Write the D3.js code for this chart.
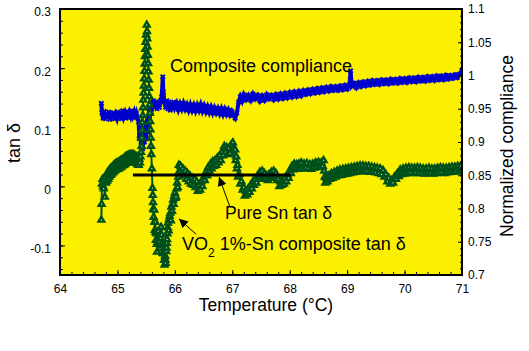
<!DOCTYPE html>
<html>
<head>
<meta charset="utf-8">
<script src="https://cdn.jsdelivr.net/npm/d3@7"></script>
<style>
	body { margin: 0; background: #fff; }
	svg { display: block; font-family: Arial, 'Liberation Sans', sans-serif; }
</style>
</head>
<body>
<div class="chart"></div>
<script>
// chart data
const tempTicks = [ 64, 65, 66, 67, 68, 69, 70, 71 ];
const tanTicks = [ -0.1, 0, 0.1, 0.2, 0.3 ];
const tanTickLabels = [ '-0.1', '0', '0.1', '0.2', '0.3' ];
const compTicks = [ 0.7, 0.75, 0.8, 0.85, 0.9, 0.95, 1, 1.05, 1.1 ];
const compTickLabels = [ '0.7', '0.75', '0.8', '0.85', '0.9', '0.95', '1', '1.05', '1.1' ];

// VO2 1%-Sn composite tan delta  [temperature, tan delta]
const compositeTan = [
	[64.72,-0.057],[64.725,-0.030],[64.73,0.004],[64.74,0.012],[64.75,0.000],[64.76,-0.004],[64.77,0.010],
	[64.78,-0.018],[64.79,0.016],[64.80,0.006],[64.81,0.020],[64.82,0.009],[64.83,0.024],[64.84,0.012],
	[64.85,0.026],[64.86,0.016],[64.87,0.029],[64.88,0.019],[64.89,0.031],[64.90,0.021],[64.91,0.033],
	[64.92,0.023],[64.93,0.035],[64.94,0.025],[64.95,0.037],[64.96,0.027],[64.97,0.038],[64.98,0.028],
	[64.99,0.040],[65.00,0.029],[65.02,0.041],[65.03,0.030],[65.04,0.042],[65.05,0.032],[65.06,0.044],
	[65.07,0.033],[65.08,0.045],[65.09,0.035],[65.10,0.046],[65.11,0.036],[65.12,0.048],[65.13,0.037],
	[65.14,0.050],[65.15,0.039],[65.16,0.051],[65.17,0.040],[65.18,0.052],[65.19,0.041],[65.20,0.053],
	[65.21,0.042],[65.22,0.054],[65.23,0.043],[65.24,0.054],[65.25,0.042],[65.26,0.053],[65.27,0.041],
	[65.28,0.054],[65.29,0.042],[65.30,0.052],[65.31,0.040],[65.32,0.051],[65.33,0.039],[65.34,0.050],
	[65.35,0.037],[65.36,0.048],[65.37,0.036],[65.38,0.046],[65.39,0.040],[65.40,0.050],[65.41,0.058],
	[65.42,0.068],[65.425,0.082],[65.43,0.095],[65.435,0.108],[65.44,0.120],[65.445,0.133],[65.45,0.146],
	[65.455,0.158],[65.46,0.170],[65.465,0.182],[65.47,0.195],[65.475,0.207],[65.48,0.220],[65.485,0.232],
	[65.49,0.244],[65.50,0.256],[65.51,0.273],[65.515,0.262],[65.52,0.250],[65.525,0.236],[65.53,0.222],
	[65.535,0.208],[65.54,0.194],[65.545,0.180],[65.55,0.166],[65.555,0.152],[65.56,0.138],[65.565,0.124],
	[65.57,0.110],[65.575,0.096],[65.58,0.082],[65.585,0.068],[65.59,0.054],[65.60,0.030],[65.61,-0.003],
	[65.615,-0.015],[65.62,-0.027],[65.625,-0.038],[65.63,-0.052],[65.64,-0.040],[65.645,-0.060],
	[65.65,-0.074],[65.66,-0.060],[65.665,-0.078],[65.67,-0.091],[65.68,-0.080],[65.685,-0.098],
	[65.69,-0.111],[65.70,-0.095],[65.71,-0.076],[65.72,-0.086],[65.73,-0.094],[65.74,-0.105],[65.75,-0.088],
	[65.76,-0.069],[65.77,-0.082],[65.78,-0.096],[65.79,-0.113],[65.80,-0.100],[65.805,-0.114],[65.81,-0.125],
	[65.82,-0.133],[65.83,-0.118],[65.835,-0.124],[65.84,-0.130],[65.85,-0.110],[65.855,-0.104],[65.86,-0.096],
	[65.865,-0.090],[65.87,-0.080],[65.875,-0.070],[65.88,-0.062],[65.89,-0.075],[65.90,-0.055],[65.91,-0.050],
	[65.92,-0.045],[65.93,-0.058],[65.94,-0.035],[65.95,-0.042],[65.96,-0.030],[65.97,-0.023],[65.98,-0.030],
	[65.99,-0.016],[66.00,-0.011],[66.01,-0.020],[66.02,-0.018],[66.03,-0.004],[66.04,0.006],[66.05,-0.002],
	[66.06,0.016],[66.07,0.036],[66.08,0.026],[66.10,0.034],[66.12,0.022],[66.14,0.030],[66.16,0.018],
	[66.18,0.026],[66.20,0.012],[66.22,0.022],[66.24,0.008],[66.26,0.018],[66.28,0.004],[66.30,0.014],
	[66.32,0.002],[66.34,0.012],[66.36,-0.002],[66.38,0.008],[66.40,-0.008],[66.42,0.002],[66.44,-0.006],
	[66.46,0.008],[66.48,0.000],[66.50,0.014],[66.52,0.010],[66.54,0.024],[66.56,0.018],[66.58,0.032],
	[66.60,0.026],[66.62,0.038],[66.64,0.030],[66.66,0.042],[66.68,0.034],[66.70,0.044],[66.72,0.036],
	[66.74,0.048],[66.76,0.040],[66.78,0.052],[66.80,0.044],[66.82,0.058],[66.84,0.052],[66.86,0.068],
	[66.88,0.058],[66.90,0.066],[66.92,0.054],[66.94,0.064],[66.96,0.056],[66.98,0.070],[67.00,0.062],
	[67.01,0.074],[67.02,0.064],[67.04,0.054],[67.05,0.062],[67.06,0.044],[67.07,0.050],[67.08,0.030],
	[67.09,0.036],[67.10,0.016],[67.12,0.020],[67.14,0.004],[67.16,0.008],[67.18,-0.006],[67.20,-0.002],
	[67.22,-0.016],[67.24,-0.008],[67.26,-0.014],[67.28,-0.004],[67.30,-0.010],[67.32,0.002],[67.34,-0.004],
	[67.36,0.008],[67.38,0.002],[67.40,0.012],[67.42,0.006],[67.44,0.018],[67.46,0.012],[67.48,0.024],
	[67.50,0.016],[67.52,0.026],[67.54,0.018],[67.56,0.022],[67.58,0.012],[67.60,0.018],[67.62,0.010],
	[67.64,0.020],[67.66,0.014],[67.68,0.024],[67.70,0.016],[67.72,0.026],[67.74,0.018],[67.76,0.022],
	[67.78,0.010],[67.80,0.012],[67.82,0.000],[67.84,0.008],[67.86,0.002],[67.88,0.012],[67.90,0.004],
	[67.92,0.014],[67.94,0.008],[67.96,0.020],[67.98,0.014],[68.00,0.026],[68.02,0.022],[68.04,0.034],
	[68.06,0.028],[68.08,0.038],[68.10,0.030],[68.12,0.037],[68.14,0.029],[68.16,0.038],[68.18,0.030],
	[68.20,0.040],[68.225,0.030],[68.25,0.038],[68.275,0.031],[68.30,0.039],[68.325,0.030],[68.35,0.037],
	[68.375,0.029],[68.40,0.038],[68.425,0.031],[68.45,0.040],[68.475,0.032],[68.50,0.041],[68.525,0.033],
	[68.55,0.040],[68.575,0.034],[68.59,0.044],[68.60,0.026],[68.61,0.016],[68.62,0.006],[68.64,0.014],
	[68.66,0.008],[68.68,0.018],[68.70,0.012],[68.725,0.022],[68.75,0.014],[68.775,0.024],[68.80,0.016],
	[68.825,0.026],[68.85,0.018],[68.875,0.028],[68.90,0.019],[68.925,0.029],[68.95,0.020],[68.975,0.030],
	[69.00,0.021],[69.025,0.031],[69.05,0.022],[69.075,0.032],[69.10,0.023],[69.125,0.033],[69.15,0.024],
	[69.175,0.034],[69.20,0.025],[69.225,0.035],[69.25,0.025],[69.275,0.035],[69.30,0.026],[69.325,0.034],
	[69.35,0.025],[69.375,0.034],[69.40,0.024],[69.425,0.033],[69.45,0.024],[69.475,0.032],[69.50,0.023],
	[69.525,0.031],[69.55,0.022],[69.575,0.030],[69.60,0.020],[69.625,0.027],[69.65,0.016],[69.675,0.020],
	[69.70,0.008],[69.725,0.014],[69.75,0.004],[69.775,0.010],[69.80,0.006],[69.825,0.016],[69.85,0.012],
	[69.875,0.022],[69.90,0.017],[69.925,0.028],[69.95,0.020],[69.975,0.030],[70.00,0.021],[70.025,0.031],
	[70.05,0.022],[70.075,0.032],[70.10,0.023],[70.125,0.031],[70.15,0.022],[70.175,0.031],[70.20,0.023],
	[70.225,0.032],[70.25,0.022],[70.275,0.031],[70.30,0.022],[70.325,0.030],[70.35,0.021],[70.375,0.030],
	[70.40,0.022],[70.425,0.031],[70.45,0.022],[70.475,0.030],[70.50,0.021],[70.525,0.030],[70.55,0.022],
	[70.575,0.031],[70.60,0.023],[70.625,0.032],[70.65,0.023],[70.675,0.031],[70.70,0.022],[70.725,0.031],
	[70.75,0.023],[70.775,0.032],[70.80,0.024],[70.825,0.033],[70.85,0.024],[70.875,0.033],[70.90,0.025],
	[70.925,0.034],[70.95,0.025],[70.975,0.034],[71.00,0.028]
];

// composite normalized compliance  [temperature, compliance]
const compositeCompliance = [
	[64.72,0.958],[64.73,0.944],[64.75,0.936],[64.77,0.946],[64.79,0.935],[64.81,0.943],[64.83,0.937],
	[64.85,0.945],[64.87,0.934],[64.89,0.942],[64.91,0.936],[64.93,0.944],[64.95,0.935],[64.97,0.941],
	[64.99,0.936],[65.01,0.945],[65.03,0.937],[65.05,0.944],[65.07,0.935],[65.09,0.947],[65.11,0.938],
	[65.13,0.943],[65.15,0.936],[65.17,0.946],[65.19,0.937],[65.21,0.944],[65.23,0.939],[65.25,0.947],
	[65.27,0.940],[65.29,0.945],[65.31,0.937],[65.33,0.943],[65.35,0.936],[65.37,0.930],[65.38,0.905],
	[65.40,0.925],[65.41,0.895],[65.43,0.915],[65.44,0.890],[65.46,0.912],[65.47,0.900],[65.49,0.925],
	[65.50,0.905],[65.52,0.935],[65.53,0.915],[65.55,0.950],[65.56,0.930],[65.58,0.960],[65.59,0.945],
	[65.61,0.955],[65.63,0.962],[65.65,0.952],[65.67,0.960],[65.69,0.950],[65.71,0.958],[65.73,0.952],
	[65.75,0.962],[65.77,0.968],[65.79,0.998],[65.80,0.975],[65.82,0.960],[65.84,0.952],[65.86,0.962],
	[65.88,0.950],[65.90,0.960],[65.92,0.948],[65.94,0.958],[65.96,0.950],[65.98,0.960],[66.00,0.952],
	[66.03,0.958],[66.06,0.949],[66.09,0.957],[66.12,0.950],[66.15,0.958],[66.18,0.950],[66.21,0.956],
	[66.24,0.948],[66.27,0.956],[66.30,0.948],[66.33,0.955],[66.36,0.947],[66.39,0.955],[66.42,0.948],
	[66.45,0.956],[66.48,0.947],[66.51,0.954],[66.54,0.946],[66.57,0.953],[66.60,0.945],[66.63,0.952],
	[66.66,0.944],[66.69,0.951],[66.72,0.944],[66.75,0.950],[66.78,0.943],[66.81,0.950],[66.84,0.942],
	[66.87,0.949],[66.90,0.942],[66.93,0.948],[66.96,0.941],[66.99,0.946],[67.02,0.940],[67.05,0.936],
	[67.08,0.944],[67.11,0.960],[67.14,0.968],[67.17,0.962],[67.20,0.971],[67.24,0.964],[67.28,0.970],
	[67.32,0.963],[67.36,0.972],[67.40,0.965],[67.44,0.970],[67.48,0.962],[67.52,0.969],[67.56,0.963],
	[67.60,0.971],[67.64,0.965],[67.68,0.970],[67.72,0.964],[67.76,0.971],[67.80,0.965],[67.84,0.972],
	[67.88,0.966],[67.92,0.973],[67.96,0.967],[68.00,0.974],[68.04,0.968],[68.08,0.975],[68.12,0.969],
	[68.16,0.976],[68.20,0.970],[68.24,0.977],[68.28,0.972],[68.32,0.978],[68.36,0.973],[68.40,0.979],
	[68.44,0.974],[68.48,0.980],[68.52,0.975],[68.56,0.981],[68.60,0.976],[68.64,0.982],[68.68,0.977],
	[68.72,0.983],[68.76,0.978],[68.80,0.983],[68.84,0.978],[68.88,0.984],[68.92,0.979],[68.96,0.985],
	[69.00,0.980],[69.04,0.986],[69.06,1.007],[69.08,0.984],[69.12,0.988],[69.16,0.982],[69.20,0.989],
	[69.24,0.984],[69.28,0.990],[69.32,0.985],[69.36,0.991],[69.40,0.986],[69.44,0.992],[69.48,0.987],
	[69.52,0.992],[69.56,0.987],[69.60,0.993],[69.64,0.988],[69.68,0.993],[69.72,0.988],[69.76,0.994],
	[69.80,0.989],[69.84,0.994],[69.88,0.989],[69.92,0.995],[69.96,0.990],[70.00,0.995],[70.04,0.990],
	[70.08,0.996],[70.12,0.991],[70.16,0.996],[70.20,0.991],[70.24,0.997],[70.28,0.992],[70.32,0.997],
	[70.36,0.992],[70.40,0.998],[70.44,0.993],[70.48,0.998],[70.52,0.993],[70.56,0.999],[70.60,0.994],
	[70.64,0.999],[70.68,0.994],[70.72,1.000],[70.76,0.995],[70.80,1.000],[70.84,0.996],[70.88,1.001],
	[70.92,0.997],[70.96,1.002],[71.00,1.008]
];

// pure Sn tan delta reference line
const pureSnTan = [ [65.27, 0.019], [68.02, 0.019] ];

const width = 529;
const height = 351;
const plot = { left: 60, right: 462, top: 9, bottom: 275 };
const green = '#00501a';
const blue = '#0000cc';

const svg = d3.select('.chart').append('svg').attr('width', width).attr('height', height);

const x = d3.scaleLinear().domain([ 64, 71 ]).range([ plot.left, plot.right ]);
const yTan = d3.scaleLinear().domain([ -0.15, 0.3 ]).range([ plot.bottom, plot.top ]);
const yComp = d3.scaleLinear().domain([ 0.7, 1.1 ]).range([ plot.bottom, plot.top ]);

// yellow plot area
svg.append('rect')
	.attr('x', plot.left).attr('y', plot.top)
	.attr('width', plot.right - plot.left).attr('height', plot.bottom - plot.top)
	.attr('fill', '#faf000');

svg.append('clipPath').attr('id', 'clip').append('rect')
	.attr('x', plot.left).attr('y', plot.top)
	.attr('width', plot.right - plot.left).attr('height', plot.bottom - plot.top);

const data = svg.append('g').attr('clip-path', 'url(#clip)');

// compliance (blue, right axis)
const compLine = d3.line().x((d) => x(d[0])).y((d) => yComp(d[1]));
data.append('path').datum(compositeCompliance)
	.attr('d', compLine).attr('fill', 'none').attr('stroke', blue).attr('stroke-width', 4);
data.append('g').selectAll('path').data(compositeCompliance).join('path')
	.attr('transform', (d) => `translate(${x(d[0])},${yComp(d[1])}) rotate(45)`)
	.attr('d', d3.symbol(d3.symbolCross, 20))
	.attr('fill', blue);

// composite tan delta (green triangles, left axis)
const tanLine = d3.line().x((d) => x(d[0])).y((d) => yTan(d[1]));
data.append('path').datum(compositeTan)
	.attr('d', tanLine).attr('fill', 'none').attr('stroke', green).attr('stroke-width', 2);
data.append('g').selectAll('path').data(compositeTan).join('path')
	.attr('transform', (d) => `translate(${x(d[0])},${yTan(d[1])})`)
	.attr('d', d3.symbol(d3.symbolTriangle, 14))
	.attr('fill', '#ffffff').attr('stroke', green).attr('stroke-width', 2.4);

// pure Sn line
data.append('path').datum(pureSnTan)
	.attr('d', tanLine).attr('stroke', '#000').attr('stroke-width', 3);

// axes
const bottomMinor = d3.range(64, 71.001, 0.2);
const leftMinor = d3.range(-0.14, 0.3001, 0.02);
const rightMinor = d3.range(0.7, 1.1001, 0.01);

svg.append('g').attr('transform', `translate(0,${plot.bottom})`)
	.call(d3.axisBottom(x).tickValues(bottomMinor).tickFormat('').tickSize(-3).tickSizeOuter(0));
svg.append('g').attr('transform', `translate(0,${plot.bottom})`)
	.call(d3.axisBottom(x).tickValues(tempTicks).tickFormat(d3.format('d')).tickSize(-5).tickSizeOuter(0).tickPadding(9));

svg.append('g').attr('transform', `translate(${plot.left},0)`)
	.call(d3.axisLeft(yTan).tickValues(leftMinor).tickFormat('').tickSize(-3).tickSizeOuter(0));
svg.append('g').attr('class', 'left-axis').attr('transform', `translate(${plot.left},0)`)
	.call(d3.axisLeft(yTan).tickValues(tanTicks).tickFormat((d, i) => tanTickLabels[i]).tickSize(-5).tickSizeOuter(0).tickPadding(9));
svg.selectAll('.left-axis text').attr('dy', '0.58em');

svg.append('g').attr('transform', `translate(${plot.right},0)`)
	.call(d3.axisRight(yComp).tickValues(rightMinor).tickFormat('').tickSize(-2).tickSizeOuter(0));
svg.append('g').attr('transform', `translate(${plot.right},0)`)
	.call(d3.axisRight(yComp).tickValues(compTicks).tickFormat((d, i) => compTickLabels[i]).tickSize(-4).tickSizeOuter(0).tickPadding(6));

svg.selectAll('.tick text').attr('font-size', 12).attr('font-family', 'Arial, Liberation Sans, sans-serif').attr('fill', '#000');
svg.selectAll('.domain').remove();
svg.selectAll('.tick line').attr('stroke', '#000');

// frame
svg.append('rect')
	.attr('x', plot.left).attr('y', plot.top)
	.attr('width', plot.right - plot.left).attr('height', plot.bottom - plot.top)
	.attr('fill', 'none').attr('stroke', '#000').attr('stroke-width', 2);

// axis titles
svg.append('text')
	.attr('x', 266).attr('y', 311)
	.attr('text-anchor', 'middle').attr('font-size', 17.5)
	.text('Temperature (\u00b0C)');

svg.append('text')
	.attr('transform', 'translate(20,143) rotate(-90)')
	.attr('text-anchor', 'middle').attr('font-size', 18)
	.text('tan \u03b4');

svg.append('text')
	.attr('transform', 'translate(513,146) rotate(-90)')
	.attr('text-anchor', 'middle').attr('font-size', 17.5)
	.text('Normalized compliance');

// annotations
svg.append('defs').append('marker')
	.attr('id', 'arrow').attr('viewBox', '0 0 10 10').attr('refX', 10).attr('refY', 5)
	.attr('markerWidth', 9).attr('markerHeight', 9).attr('markerUnits', 'userSpaceOnUse')
	.attr('orient', 'auto')
	.append('path').attr('d', 'M0,0L10,5L0,10z').attr('fill', '#000');

svg.append('text')
	.attr('x', x(65.915)).attr('y', yTan(0.1934))
	.attr('font-size', 18)
	.text('Composite compliance');

svg.append('line')
	.attr('x1', x(66.96)).attr('y1', yTan(-0.035))
	.attr('x2', x(66.77)).attr('y2', yTan(0.0157))
	.attr('stroke', '#000').attr('stroke-width', 1).attr('marker-end', 'url(#arrow)');
svg.append('text')
	.attr('x', x(66.873)).attr('y', yTan(-0.0553))
	.attr('font-size', 17.5)
	.text('Pure Sn tan \u03b4');

svg.append('line')
	.attr('x1', x(66.37)).attr('y1', yTan(-0.081))
	.attr('x2', x(66.07)).attr('y2', yTan(-0.055))
	.attr('stroke', '#000').attr('stroke-width', 1).attr('marker-end', 'url(#arrow)');
const vo2 = svg.append('text')
	.attr('x', x(66.124)).attr('y', yTan(-0.1078))
	.attr('font-size', 18);
vo2.append('tspan').text('VO');
vo2.append('tspan').attr('font-size', 12).attr('dy', 7).text('2');
vo2.append('tspan').attr('dy', -7).text(' 1%-Sn composite tan \u03b4');
</script>
</body>
</html>
